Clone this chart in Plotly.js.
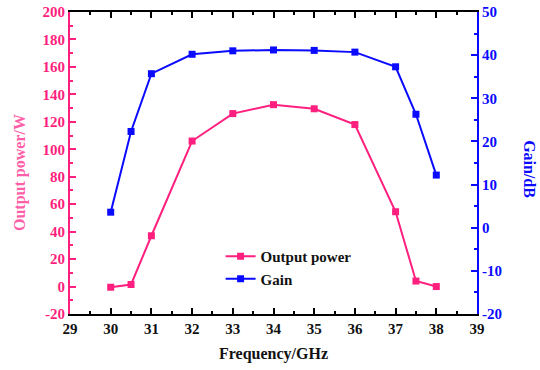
<!DOCTYPE html>
<html><head><meta charset="utf-8">
<script src="https://cdn.plot.ly/plotly-3.0.1.min.js"></script>
<style>html,body{margin:0;padding:0;background:#fff}#chart{width:540px;height:370px}</style>
</head><body><div id="chart"></div>
<script>
const freq = [30, 30.5, 31, 32, 33, 34, 35, 36, 37, 37.5, 38];
const outputPower = [-0.5, 1.5, 37, 106, 126, 132.5, 129.5, 118, 54.5, 4, 0];
const gain = [3.6, 22.3, 35.7, 40.2, 41.0, 41.2, 41.1, 40.7, 37.3, 26.3, 12.2];
const xTicks = [29, 30, 31, 32, 33, 34, 35, 36, 37, 38, 39];
const powerTicks = [-20, 0, 20, 40, 60, 80, 100, 120, 140, 160, 180, 200];
const gainTicks = [-20, -10, 0, 10, 20, 30, 40, 50];

const pink = '#ff1f7e';
const blue = '#0a0aff';
const fam = '"Liberation Serif", "Times New Roman", serif';
const bold = v => '<b>' + String(v) + '</b>';

const traces = [
  {x: freq, y: outputPower, name: '<b>Output power</b>', type: 'scatter', mode: 'lines+markers',
   line: {color: pink, width: 2}, marker: {symbol: 'square', size: 7, color: pink}, yaxis: 'y'},
  {x: freq, y: gain, name: '<b>Gain</b>', type: 'scatter', mode: 'lines+markers',
   line: {color: blue, width: 2}, marker: {symbol: 'square', size: 7, color: blue}, yaxis: 'y2'}
];

const layout = {
  width: 540, height: 370,
  margin: {l: 70, r: 63, t: 12, b: 56},
  paper_bgcolor: '#fff', plot_bgcolor: '#fff',
  showlegend: true,
  legend: {x: 0.37, y: 0.245, xanchor: 'left', yanchor: 'top', bgcolor: 'rgba(0,0,0,0)',
           font: {family: fam, size: 15, color: '#111'}, tracegroupgap: 0, itemwidth: 30},
  xaxis: {range: [29, 39], tickvals: xTicks, ticktext: xTicks.map(bold),
          showgrid: false, zeroline: false, showline: true, linecolor: '#000', linewidth: 2,
          mirror: 'ticks', ticks: 'inside', ticklen: 6, tickwidth: 2, tickcolor: '#000',
          minor: {dtick: 0.5, tick0: 29, ticks: 'inside', ticklen: 3, tickwidth: 2, tickcolor: '#000', showgrid: false},
          tickfont: {family: fam, size: 15, color: '#111'},
          title: {text: '<b>Frequency/GHz</b>', font: {family: fam, size: 16, color: '#111'}, standoff: 12}},
  yaxis: {range: [-20, 200], tickvals: powerTicks, ticktext: powerTicks.map(bold), showgrid: false, zeroline: false,
          showline: true, linecolor: pink, linewidth: 2, ticks: 'inside', ticklen: 6, tickwidth: 2, tickcolor: pink,
          minor: {dtick: 10, tick0: 0, ticks: 'inside', ticklen: 3, tickwidth: 2, tickcolor: pink, showgrid: false},
          tickfont: {family: fam, size: 15, color: pink}},
  yaxis2: {range: [-20, 50], tickvals: gainTicks, ticktext: gainTicks.map(bold), overlaying: 'y', side: 'right', showgrid: false, zeroline: false,
           showline: true, linecolor: blue, linewidth: 2, ticks: 'inside', ticklen: 6, tickwidth: 2, tickcolor: blue,
           minor: {dtick: 5, tick0: 0, ticks: 'inside', ticklen: 3, tickwidth: 2, tickcolor: blue, showgrid: false},
           tickfont: {family: fam, size: 15, color: blue}},
  annotations: [
    {text: '<b>Output power/W</b>', xref: 'paper', yref: 'paper', x: -0.123, y: 0.47, textangle: -90,
     showarrow: false, font: {family: fam, size: 16, color: '#ff5fa8'}, xanchor: 'center', yanchor: 'middle'},
    {text: '<b>Gain/dB</b>', xref: 'paper', yref: 'paper', x: 1.13, y: 0.48, textangle: 90,
     showarrow: false, font: {family: fam, size: 16, color: blue}, xanchor: 'center', yanchor: 'middle'}
  ]
};

Plotly.newPlot('chart', traces, layout, {staticPlot: true, displayModeBar: false});
</script></body></html>
